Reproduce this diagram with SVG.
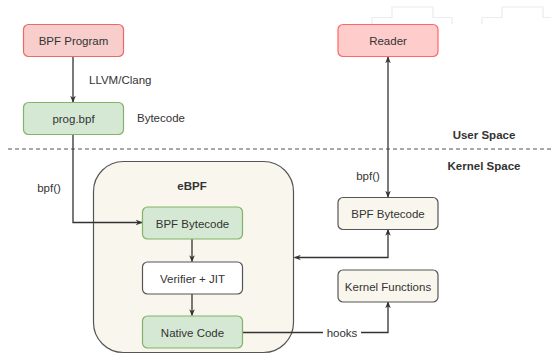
<svg xmlns="http://www.w3.org/2000/svg" width="551" height="355" viewBox="0 0 551 355">
<defs>
<marker id="ah" viewBox="0 0 10 10" refX="9" refY="5" markerWidth="7" markerHeight="7" orient="auto-start-reverse" markerUnits="userSpaceOnUse">
<path d="M0,1 L10,5 L0,9 L3,5 Z" fill="#333"/>
</marker>
<style>
text{font-family:"Liberation Sans",Arial,Helvetica,sans-serif;font-size:11.5px;fill:#333}
.c{text-anchor:middle;dominant-baseline:central}
.b{font-weight:bold}
.red{fill:#f8cecc;stroke:#ea6b66;stroke-width:1.2}
.red2{fill:#ffcccc;stroke:#ff6666;stroke-width:1.2}
.grn{fill:#d5e8d4;stroke:#82b366;stroke-width:1.2}
.wht{fill:#ffffff;stroke:#555;stroke-width:1.2}
.crm{fill:#f9f7ed;stroke:#555;stroke-width:1.2}
.e{fill:none;stroke:#333;stroke-width:1.3}
</style>
</defs>
<rect width="551" height="355" fill="#fff"/>
<g id="faint" fill="none" stroke="#ececec" stroke-width="1.2">
<path d="M372,24 V17.5 H392 V7 H433 V17.5 H452 V24"/>
<path d="M482,24 V17.5 H502 V7 H543 V17.5 H551"/>
</g>
<g id="divider">
<line x1="8" y1="149" x2="551" y2="149" stroke="#555" stroke-width="1.2" stroke-dasharray="4,3"/>
<text x="484" y="135" class="c b">User Space</text>
<text x="484" y="166" class="c b">Kernel Space</text>
</g>
<g id="ebpf">
<rect x="93.5" y="161.5" width="200" height="191" rx="30" ry="30" class="crm"/>
<text x="192" y="186" class="c b">eBPF</text>
</g>
<g id="connectors">
<line x1="73" y1="57" x2="73" y2="102" class="e" marker-end="url(#ah)"/>
<polyline points="73,134.5 73,222.5 142,222.5" class="e" marker-end="url(#ah)"/>
<line x1="192" y1="239" x2="192" y2="261.5" class="e" marker-end="url(#ah)"/>
<line x1="192" y1="294" x2="192" y2="315.5" class="e" marker-end="url(#ah)"/>
<line x1="388" y1="57" x2="388" y2="197" class="e" marker-start="url(#ah)" marker-end="url(#ah)"/>
<polyline points="388,229.5 388,257.5 294.5,257.5" class="e" marker-start="url(#ah)" marker-end="url(#ah)"/>
<polyline points="242.5,332.5 388,332.5 388,302" class="e" marker-end="url(#ah)"/>
</g>
<g id="labels">
<text x="89" y="80" dominant-baseline="central">LLVM/Clang</text>
<text x="137" y="118" dominant-baseline="central">Bytecode</text>
<text x="49" y="188" class="c">bpf()</text>
<text x="368" y="176" class="c">bpf()</text>
<rect x="323" y="326" width="38" height="14" fill="#fff"/>
<text x="342" y="333" class="c">hooks</text>
</g>
<g id="bpf-program">
<rect x="23.5" y="24.5" width="100" height="32" rx="5" class="red"/>
<text x="73.5" y="41" class="c">BPF Program</text>
</g>
<g id="prog-bpf">
<rect x="23.5" y="102.5" width="100" height="32" rx="5" class="grn"/>
<text x="73.5" y="119" class="c">prog.bpf</text>
</g>
<g id="reader">
<rect x="338" y="24.5" width="100" height="32" rx="5" class="red2"/>
<text x="388" y="41" class="c">Reader</text>
</g>
<g id="bpf-bytecode-inner">
<rect x="142.5" y="207" width="100" height="32" rx="5" class="grn"/>
<text x="192.5" y="223.5" class="c">BPF Bytecode</text>
</g>
<g id="verifier-jit">
<rect x="142.5" y="262" width="100" height="32" rx="5" class="wht"/>
<text x="192.5" y="278.5" class="c">Verifier + JIT</text>
</g>
<g id="native-code">
<rect x="142.5" y="316" width="100" height="32" rx="5" class="grn"/>
<text x="192.5" y="332.5" class="c">Native Code</text>
</g>
<g id="bpf-bytecode-right">
<rect x="338" y="197.5" width="100" height="32" rx="5" class="crm"/>
<text x="388" y="214" class="c">BPF Bytecode</text>
</g>
<g id="kernel-functions">
<rect x="338" y="270" width="100" height="32" rx="5" class="crm"/>
<text x="388" y="286.5" class="c">Kernel Functions</text>
</g>
</svg>
